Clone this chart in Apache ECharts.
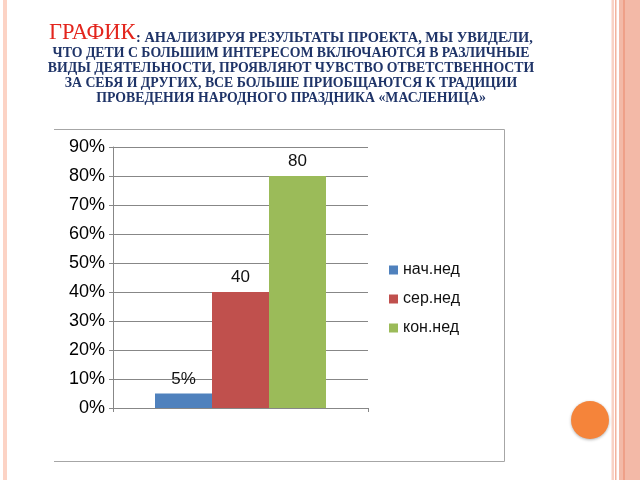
<!DOCTYPE html>
<html>
<head>
<meta charset="utf-8">
<script src="https://cdn.jsdelivr.net/npm/echarts@6/dist/echarts.min.js"></script>
<style>html,body{margin:0;padding:0;background:#fff;}#c{width:640px;height:480px;}</style>
</head>
<body>
<div id="c"></div>
<script>
var categories = [''];
var seriesNames = ['нач.нед', 'сер.нед', 'кон.нед'];
var nachValues = [0.05];
var serValues = [0.40];
var konValues = [0.80];
var yTicks = [0, 0.1, 0.2, 0.3, 0.4, 0.5, 0.6, 0.7, 0.8, 0.9];
var titleLines = [
  'ЧТО ДЕТИ С БОЛЬШИМ ИНТЕРЕСОМ ВКЛЮЧАЮТСЯ В РАЗЛИЧНЫЕ',
  'ВИДЫ ДЕЯТЕЛЬНОСТИ, ПРОЯВЛЯЮТ ЧУВСТВО ОТВЕТСТВЕННОСТИ',
  'ЗА СЕБЯ И ДРУГИХ, ВСЕ БОЛЬШЕ ПРИОБЩАЮТСЯ К ТРАДИЦИИ',
  'ПРОВЕДЕНИЯ НАРОДНОГО ПРАЗДНИКА «МАСЛЕНИЦА»'
];
var titleHead = 'ГРАФИК';
var titleFirst = ': АНАЛИЗИРУЯ РЕЗУЛЬТАТЫ ПРОЕКТА, МЫ УВИДЕЛИ,';

var navy = '#1f3468';
var chart = echarts.init(document.getElementById('c'));

function pct(v) { return Math.round(v * 100) + '%'; }

var graphics = [
  {type:'rect', shape:{x:3,y:0,width:4,height:480}, style:{fill:'#fcd3c5'}, silent:true},
  {type:'rect', shape:{x:611.5,y:0,width:2.5,height:480}, style:{fill:'#f9d2c5'}, silent:true},
  {type:'rect', shape:{x:615,y:0,width:1.5,height:480}, style:{fill:'#f3b39e'}, silent:true},
  {type:'rect', shape:{x:619,y:0,width:21,height:480}, style:{fill:'#f3b9a7'}, silent:true},
  {type:'rect', shape:{x:623,y:0,width:2,height:480}, style:{fill:'#efa088'}, silent:true},
  {type:'polyline', shape:{points:[[54,129.5],[504.5,129.5],[504.5,461.5],[54,461.5]]}, style:{stroke:'#a6a6a6', fill:null, lineWidth:1}, silent:true},
  {type:'circle', shape:{cx:590, cy:420, r:19}, style:{fill:'#f5843a', shadowBlur:3, shadowColor:'rgba(0,0,0,0.3)', shadowOffsetY:1}, silent:true},
  {type:'text', x:49, y:45, style:{
    text:titleHead, textAlign:'left', textVerticalAlign:'bottom',
    fontFamily:'Liberation Serif', fontSize:22.5, fill:'#e3251d'
  }, silent:true},
  {type:'text', x:136, y:45, style:{
    text:titleFirst, textAlign:'left', textVerticalAlign:'bottom',
    fontFamily:'Liberation Serif', fontSize:14.4, fontWeight:'bold', fill:navy
  }, silent:true}
];
for (var i = 0; i < titleLines.length; i++) {
  graphics.push({type:'text', x:291, y:60 + i * 15.2, style:{
    text:titleLines[i], textAlign:'center', textVerticalAlign:'bottom',
    fontFamily:'Liberation Serif', fontSize:13.8, fontWeight:'bold', fill:navy
  }, silent:true});
}

function barLabel(w) {
  return {
    show:true, position:'top', distance:6,
    fontFamily:'Liberation Sans', fontSize:17, color:'#111',
    width:w, overflow:'truncate', ellipsis:'',
    formatter:function(p){ return pct(p.value); }
  };
}

chart.setOption({
  backgroundColor:'#ffffff',
  animation:false,
  graphic:graphics,
  legend:{
    orient:'vertical', left:384, top:256,
    icon:'rect', itemWidth:9, itemHeight:9, itemGap:11,
    data:seriesNames,
    textStyle:{fontFamily:'Liberation Sans', fontSize:16, color:'#111', lineHeight:18, width:60, overflow:'truncate', ellipsis:''}
  },
  grid:{left:113, right:272, top:147, bottom:72},
  xAxis:{
    type:'category', data:categories,
    axisLine:{lineStyle:{color:'#878787'}},
    axisTick:{show:true, length:4, lineStyle:{color:'#878787'}},
    axisLabel:{show:false}
  },
  yAxis:{
    type:'value', min:yTicks[0], max:yTicks[yTicks.length-1], interval:yTicks[1]-yTicks[0],
    axisLine:{show:true, lineStyle:{color:'#878787'}},
    axisTick:{show:true, length:4, lineStyle:{color:'#878787'}},
    splitLine:{lineStyle:{color:'#878787'}},
    axisLabel:{fontFamily:'Liberation Sans', fontSize:18, color:'#000', margin:8, formatter:pct}
  },
  series:[
    {name:seriesNames[0], type:'bar', data:nachValues, barWidth:57, barGap:'0%', itemStyle:{color:'#4f81bd'}, label:barLabel(50)},
    {name:seriesNames[1], type:'bar', data:serValues, barWidth:57, barGap:'0%', itemStyle:{color:'#c0504d'}, label:barLabel(34)},
    {name:seriesNames[2], type:'bar', data:konValues, barWidth:57, barGap:'0%', itemStyle:{color:'#9bbb59'}, label:barLabel(34)}
  ]
});
</script>
</body>
</html>
